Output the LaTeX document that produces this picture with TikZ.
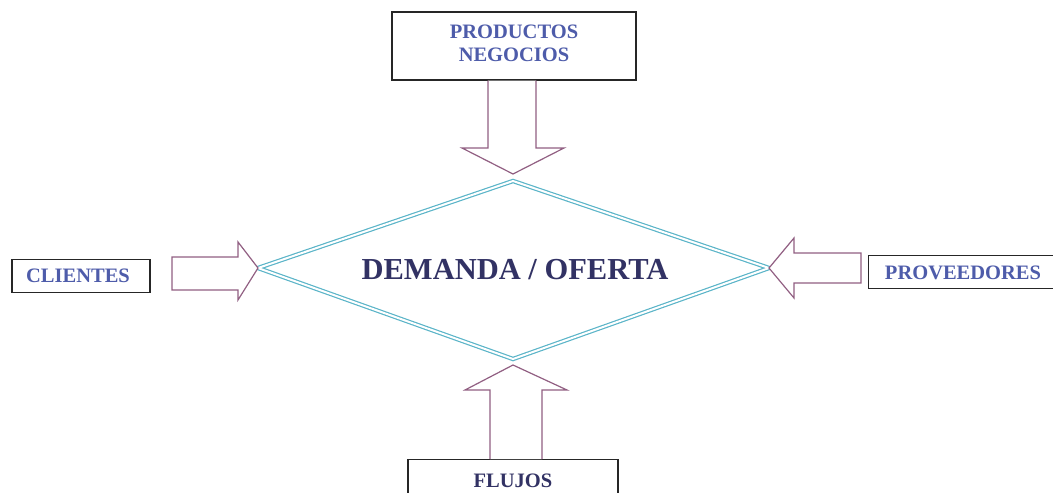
\documentclass[tikz,border=0pt]{standalone}
\usepackage{fontspec}
\setmainfont{Liberation Serif}
\definecolor{txtblue}{RGB}{78,92,170}
\definecolor{txtdark}{RGB}{50,50,100}
\definecolor{arrowc}{RGB}{145,95,130}
\definecolor{teal2}{RGB}{90,180,200}
\begin{document}
\begin{tikzpicture}[x=1pt,y=-1pt,
  boxstyle/.style={draw=black!85, line width=1.4pt, fill=white, inner sep=0pt},
  lbl/.style={font=\bfseries\fontsize{20.5}{23}\selectfont, text=txtblue, align=center},
  blockarrow/.style={draw=arrowc, line width=1.2pt, fill=white, line join=miter},
  diamondline/.style={draw=teal2, line width=1.2pt, double=white, double distance=2pt, line join=miter}]
\useasboundingbox (0,0) rectangle (1053,493);
% boxes
\node[boxstyle, minimum width=244pt, minimum height=68pt] (prod) at (514,46) {};
\node[lbl] (prodt) at (514,43) {PRODUCTOS\\NEGOCIOS};
\node[boxstyle, minimum width=138pt, minimum height=33pt] (cli) at (81,276) {};
\node[lbl] (clit) at (78,276) {CLIENTES};
\node[boxstyle, minimum width=190pt, minimum height=33pt, anchor=west] (prov) at (868,272) {};
\node[lbl] (provt) at (963,273) {PROVEEDORES};
\node[boxstyle, minimum width=210pt, minimum height=60pt, anchor=north] (flu) at (513,459) {};
\node[lbl, text=txtdark] (flut) at (513,481) {FLUJOS};
% diamond
\coordinate (dt) at (513,181);
\coordinate (dr) at (769,268);
\coordinate (db) at (513,359);
\coordinate (dl) at (258,268);
\draw[diamondline] (dt) -- (dr) -- (db) -- (dl) -- cycle;
\node[font=\bfseries\fontsize{30.5}{33}\selectfont, text=txtdark] (dem) at (515,270) {DEMANDA / OFERTA};
% arrows
\draw[blockarrow] (prod.south -| 488,0) -- (488,148) -- (462,148) -- (dt |- 0,174) -- (564,148) -- (536,148) -- (prod.south -| 536,0);
\draw[blockarrow] (490,459) -- (490,390) -- (465,390) -- (db |- 0,365) -- (567,390) -- (542,390) -- (542,459);
\draw[blockarrow] (172,257) -- (238,257) -- (238,242) -- (dl) -- (238,300) -- (238,290) -- (172,290) -- cycle;
\draw[blockarrow] (861,253) -- (794,253) -- (794,238) -- (dr) -- (794,298) -- (794,283) -- (861,283) -- cycle;
\end{tikzpicture}
\end{document}
